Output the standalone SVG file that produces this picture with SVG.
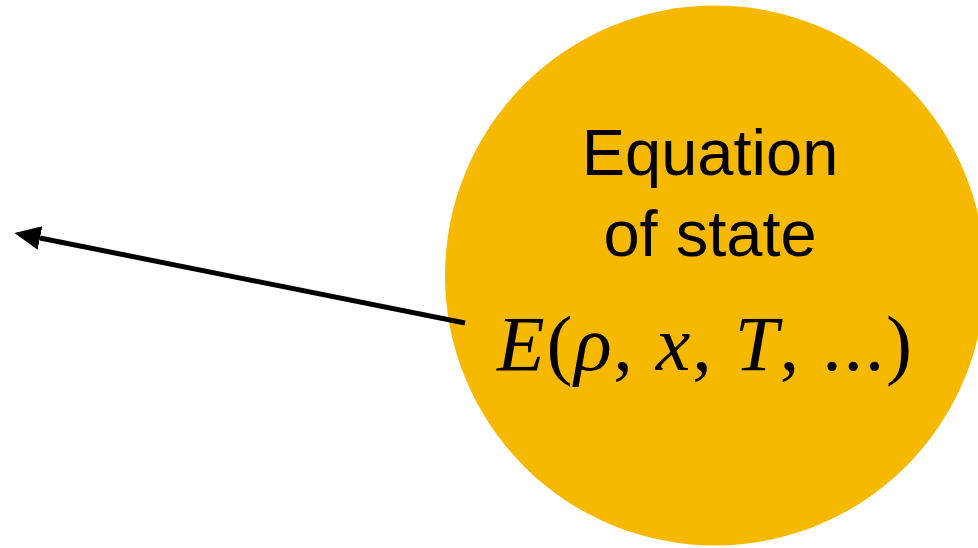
<svg xmlns="http://www.w3.org/2000/svg" width="978" height="548" viewBox="0 0 978 548">
<style>
.lbl{font-family:"Liberation Sans",Arial,sans-serif;font-size:65px;fill:#000;text-anchor:middle}
.math{font-family:"Liberation Serif","Times New Roman",serif;font-size:78px;fill:#000}
.it{font-style:italic}
.conn{stroke:#000;stroke-width:5;fill:none}
</style>
<defs>
<marker id="ah" markerUnits="userSpaceOnUse" markerWidth="30" markerHeight="30" refX="0" refY="12" orient="auto">
<path d="M0,0 L26,12 L0,24 Z" fill="#000"/>
</marker>
</defs>
<g id="eos">
<circle cx="715" cy="275.5" r="270" fill="#F7B900"/>
<text class="lbl" x="710" y="175">Equation</text>
<text class="lbl" x="710" y="256">of state</text>
<text class="math" x="497" y="370" textLength="415" lengthAdjust="spacing"><tspan class="it">E</tspan>(<tspan class="it">ρ</tspan>, <tspan class="it">x</tspan>, <tspan class="it">T</tspan>, ...)</text>
</g>
<g id="connectors">
<line class="conn" x1="465" y1="323" x2="40" y2="238" marker-end="url(#ah)"/>
</g>
</svg>
